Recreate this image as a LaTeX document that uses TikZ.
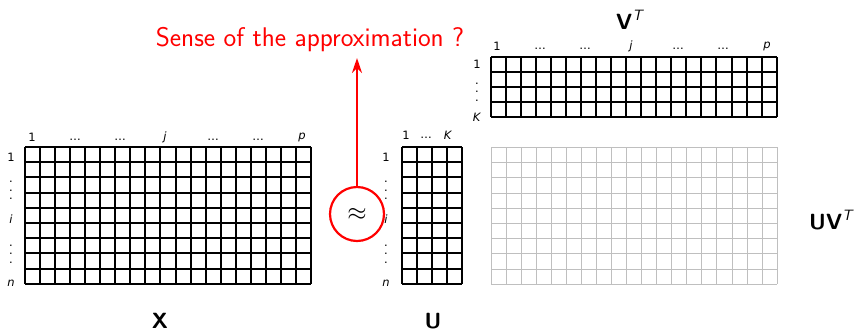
\documentclass[tikz,border=0pt]{standalone}
\usepackage{fontspec}
\usetikzlibrary{arrows.meta}
\renewcommand{\familydefault}{\sfdefault}
\newfontfamily\tickfont{DejaVu Sans}
\newcommand{\supT}{\raisebox{0.85ex}{\fontsize{15}{15}\selectfont\mdseries\textit{T}}}
\newcommand{\myvdots}{\vbox{\baselineskip8.5pt\lineskiplimit0pt\hbox{.}\hbox{.}\hbox{.}}}
\begin{document}
\begin{tikzpicture}[x=1pt,y=-1pt,
  gridline/.style={line width=1.4pt, black},
  lightgrid/.style={line width=0.9pt, black!25},
  tick/.style={font=\tickfont\fontsize{11.5}{11.5}\selectfont, inner sep=0pt},
  matlabel/.style={font=\fontsize{22}{22}\selectfont\bfseries, inner sep=0pt},
]
\useasboundingbox (0,0) rectangle (867,333);
% X matrix
\foreach \i in {0,...,19} \draw[gridline] ({round(25+\i*15.05)},147) -- ({round(25+\i*15.05)},284);
\foreach \j in {0,...,9} \draw[gridline] (25,{round(147+\j*15.2)}) -- (311,{round(147+\j*15.2)});
% U matrix
\foreach \i in {0,...,4} \draw[gridline] ({round(401.5+\i*15.05)},147) -- ({round(401.5+\i*15.05)},284);
\foreach \j in {0,...,9} \draw[gridline] (402,{round(147+\j*15.2)}) -- (462,{round(147+\j*15.2)});
% V^T matrix
\foreach \i in {0,...,19} \draw[gridline] ({round(490.7+\i*15.05)},57) -- ({round(490.7+\i*15.05)},117);
\foreach \j in {0,...,4} \draw[gridline] (491,{57+\j*15}) -- (777,{57+\j*15});
% UV^T matrix
\foreach \i in {0,...,19} \draw[lightgrid] ({round(490.7+\i*15.05)},147) -- ({round(490.7+\i*15.05)},284);
\foreach \j in {0,...,9} \draw[lightgrid] (491,{round(147+\j*15.2)}) -- (777,{round(147+\j*15.2)});
% X column ticks
\node[tick] (xc1) at (32,137) {1};
\node[tick] (xc2) at (75,139.5) {\ldots};
\node[tick] (xc3) at (120,139.5) {\ldots};
\node[tick] (xc4) at (165,137) {\textit{j}};
\node[tick] (xc5) at (213,139.5) {\ldots};
\node[tick] (xc6) at (258,139.5) {\ldots};
\node[tick] (xc7) at (302,137) {\textit{p}};
% X row ticks
\node[tick] (xr1) at (11,157) {1};
\node[tick] (xr2) at (11,190.5) {\myvdots};
\node[tick] (xr3) at (11,219) {\textit{i}};
\node[tick] (xr4) at (11,254) {\myvdots};
\node[tick] (xr5) at (11,283) {\textit{n}};
% U ticks
\node[tick] (uc1) at (406,135) {1};
\node[tick] (uc2) at (426,137.5) {\ldots};
\node[tick] (uc3) at (448,135) {\textit{K}};
\node[tick] (ur1) at (386,157) {1};
\node[tick] (ur2) at (386,190.5) {\myvdots};
\node[tick] (ur3) at (386,219) {\textit{i}};
\node[tick] (ur4) at (386,254) {\myvdots};
\node[tick] (ur5) at (386,283) {\textit{n}};
% V^T ticks
\node[tick] (vc1) at (497,46) {1};
\node[tick] (vc2) at (540,48.5) {\ldots};
\node[tick] (vc3) at (585,48.5) {\ldots};
\node[tick] (vc4) at (631,46) {\textit{j}};
\node[tick] (vc5) at (678,48.5) {\ldots};
\node[tick] (vc6) at (723,48.5) {\ldots};
\node[tick] (vc7) at (767,46) {\textit{p}};
\node[tick] (vr1) at (477,64) {1};
\node[tick] (vr2) at (477,92) {\myvdots};
\node[tick] (vr3) at (477,117) {\textit{K}};
% matrix names
\node[matlabel] (Xlab) at (160,321) {X};
\node[matlabel] (Ulab) at (433,321) {U};
\node[matlabel, anchor=west] (Vlab) at (616,20) {V\supT};
\node[matlabel, anchor=west] (UVlab) at (809,220) {UV\supT};
% approx circle and arrow
\node[circle, draw=red, line width=2.2pt, fill=white, minimum size=54pt, inner sep=0pt,
      font=\fontsize{26}{26}\selectfont] (approx) at (357,214) {$\approx$};
\coordinate (tip) at (357,58);
\draw[red, line width=2.2pt, -{Stealth[length=15pt,width=10pt]}] (approx.north) -- (tip);
\node[red, font=\fontsize{27}{27}\selectfont, inner sep=0pt] (title) at (310,40) {Sense of the approximation ?};
\end{tikzpicture}
\end{document}
